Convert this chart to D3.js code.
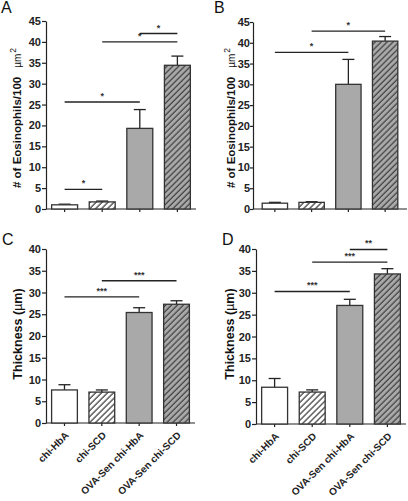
<!DOCTYPE html>
<html><head><meta charset="utf-8">
<script src="https://cdn.jsdelivr.net/npm/d3@7"></script>
<style>body{margin:0;background:#fff}svg{display:block}text{font-family:"Liberation Sans",Arial,sans-serif}</style>
</head><body>
<svg id="c" width="408" height="501"></svg>
<script>
const categories = ["chi-HbA","chi-SCD","OVA-Sen chi-HbA","OVA-Sen chi-SCD"];
const fills = ["white","hatchWhite","gray","hatchGray"];
const eosTicks = [0,5,10,15,20,25,30,35,40,45];
const thickTicks = [0,5,10,15,20,25,30,35,40];
const meanA = [1.0,1.7,19.3,34.4], errA = [1.15,1.9,23.8,36.6];
const meanB = [1.4,1.6,30.0,40.4], errB = [1.6,1.75,36.0,41.5];
const meanC = [7.6,7.1,25.4,27.3], errC = [8.8,7.6,26.5,28.1];
const meanD = [8.4,7.3,27.1,34.3], errD = [10.4,7.8,28.5,35.5];
// significance: [from index, to index, level, label]
const sigA = [[0,1,4.7,"*"],[0,2,25.6,"*"],[1,3,40.0,"*"],[2,3,42.0,"*"]];
const sigB = [[0,2,37.7,"*"],[1,3,42.8,"*"]];
const sigC = [[0,2,29.0,"***"],[1,3,32.7,"***"]];
const sigD = [[0,2,30.3,"***"],[1,3,37.0,"***"],[2,3,39.9,"**"]];

const svg = d3.select("#c");
const defs = svg.append("defs");
function hatch(id,bg,line){
  const p = defs.append("pattern").attr("id",id).attr("patternUnits","userSpaceOnUse")
    .attr("width",4.2).attr("height",4.2).attr("patternTransform","rotate(45)");
  p.append("rect").attr("width",4.2).attr("height",4.2).attr("fill",bg);
  p.append("line").attr("x1",1).attr("x2",1).attr("y1",0).attr("y2",4.2).attr("stroke",line).attr("stroke-width",1.1);
}
hatch("hw","#fff","#222");
hatch("hg","#a9a9a9","#333");
const fillMap = {white:"#fff",hatchWhite:"url(#hw)",gray:"#a9a9a9",hatchGray:"url(#hg)"};

const panels = [
  {letter:"A",lx:1,ly:13,ax:46,ax1:196,yTop:21,y0:209,max:45,ticks:eosTicks,mean:meanA,err:errA,sig:sigA,title:"eos",tx:21,ty:188,tk:4,pad:1,xl:false,oPad:0.15},
  {letter:"B",lx:214,ly:13,ax:253,ax1:407,yTop:22,y0:209,max:45,ticks:eosTicks,mean:meanB,err:errB,sig:sigB,title:"eos",tx:235,ty:188,tk:3,pad:0,xl:false,oPad:0.25},
  {letter:"C",lx:2,ly:245,ax:46,ax1:195,yTop:249,y0:423,max:40,ticks:thickTicks,mean:meanC,err:errC,sig:sigC,title:"thick",tx:22,ty:334,tk:4,pad:1,xl:true,oPad:0.15},
  {letter:"D",lx:222,ly:245,ax:256,ax1:406,yTop:249,y0:424,max:40,ticks:thickTicks,mean:meanD,err:errD,sig:sigD,title:"thick",tx:234,ty:334,tk:4,pad:1,xl:true,oPad:0.15}
];

panels.forEach(P=>{
  const g = svg.append("g");
  const y = d3.scaleLinear().domain([0,P.max]).range([P.y0,P.yTop]);
  const x = d3.scaleBand().domain(categories).range([P.ax,P.ax1]).paddingInner(0.31).paddingOuter(P.oPad);
  g.append("text").attr("x",P.lx).attr("y",P.ly).attr("font-size",16).attr("fill","#111").text(P.letter);
  // y axis
  const ya = g.append("g").attr("transform",`translate(${P.ax},0)`)
    .call(d3.axisLeft(y).tickValues(P.ticks).tickSize(P.tk).tickSizeOuter(0).tickPadding(P.pad));
  ya.select(".domain").attr("stroke","#222").attr("stroke-width",1.2);
  ya.selectAll(".tick line").attr("stroke","#222").attr("stroke-width",1.2);
  ya.selectAll(".tick text").attr("font-size",11).attr("font-weight","bold").attr("fill","#222")
    .attr("font-family","'Liberation Sans',Arial,sans-serif");
  // x axis
  const xa = g.append("g").attr("transform",`translate(0,${P.y0})`)
    .call(d3.axisBottom(x).tickSize(3).tickSizeOuter(0).tickFormat(P.xl?(d=>d):(()=>"")));
  xa.select(".domain").attr("stroke","#222").attr("stroke-width",1.2).attr("d",`M${P.ax},0H${P.ax1}`);
  xa.selectAll(".tick line").attr("stroke","#222").attr("stroke-width",1.2);
  xa.selectAll(".tick text").attr("font-size",10).attr("font-weight","bold").attr("fill","#222")
    .attr("font-family","'Liberation Sans',Arial,sans-serif")
    .attr("text-anchor","end").attr("x",0).attr("y",0).attr("dy",0)
    .attr("transform","translate(5,13) rotate(-45)");
  // bars
  categories.forEach((c,i)=>{
    const bx = x(c), bw = x.bandwidth(), cx = bx+bw/2;
    g.append("line").attr("x1",cx).attr("x2",cx).attr("y1",y(P.mean[i])).attr("y2",y(P.err[i]))
      .attr("stroke","#222").attr("stroke-width",1.3);
    g.append("line").attr("x1",cx-6).attr("x2",cx+6).attr("y1",y(P.err[i])).attr("y2",y(P.err[i]))
      .attr("stroke","#222").attr("stroke-width",1.3);
    g.append("rect").attr("x",bx).attr("y",y(P.mean[i])).attr("width",bw).attr("height",P.y0-y(P.mean[i]))
      .attr("fill",fillMap[fills[i]]).attr("stroke","#333").attr("stroke-width",1.3);
  });
  // significance
  P.sig.forEach(s=>{
    const x1 = x(categories[s[0]])+x.bandwidth()/2, x2 = x(categories[s[1]])+x.bandwidth()/2;
    const yy = y(s[2]);
    g.append("line").attr("x1",x1).attr("x2",x2).attr("y1",yy).attr("y2",yy).attr("stroke","#222").attr("stroke-width",1.4);
    g.append("text").attr("x",(x1+x2)/2).attr("y",yy-3).attr("text-anchor","middle").attr("font-size",9)
      .attr("font-weight","bold").attr("fill","#333").text(s[3]);
  });
  // y title
  if(P.title==="eos"){
    const t = g.append("text").attr("transform",`translate(${P.tx},${P.ty}) rotate(-90)`)
      .attr("text-anchor","start").attr("font-size",11.5).attr("font-weight","bold").attr("fill","#111");
    t.append("tspan").text("# of Eosinophils/100");
    t.append("tspan").attr("font-weight","normal").attr("font-size",10).attr("dx",9).text("\u00b5m");
    t.append("tspan").attr("font-weight","normal").attr("font-size",8.5).attr("dx",1).attr("dy",-5).text("2");
  } else {
    const t = g.append("text").attr("transform",`translate(${P.tx},${P.ty}) rotate(-90)`)
      .attr("text-anchor","middle").attr("font-size",12.5).attr("font-weight","bold").attr("fill","#111");
    t.append("tspan").text("Thickness (");
    t.append("tspan").attr("font-weight","normal").text("\u00b5");
    t.append("tspan").text("m)");
  }
});
</script>
</body></html>
